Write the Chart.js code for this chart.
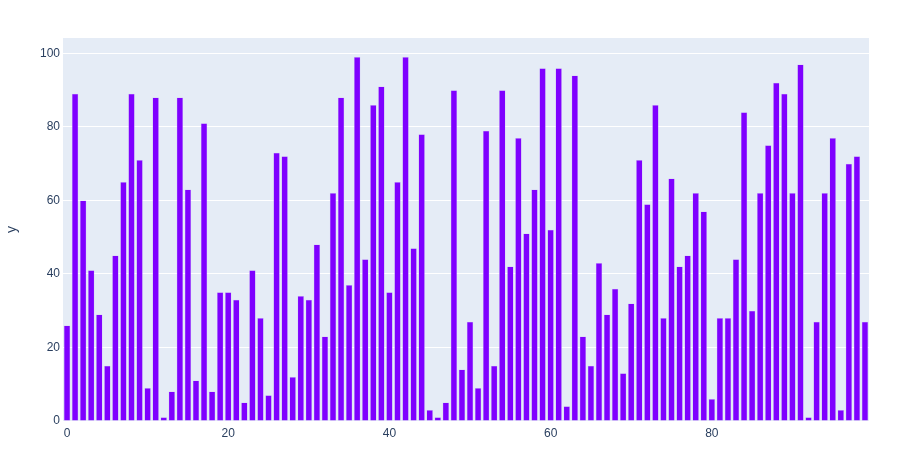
<!DOCTYPE html>
<html>
<head>
<meta charset="utf-8">
<script src="https://cdn.jsdelivr.net/npm/chart.js@4"></script>
<style>
    html, body { margin: 0; padding: 0; background: #ffffff; }
    #wrap { width: 915px; height: 459px; position: relative; }
</style>
</head>
<body>
<div id="wrap"><canvas id="barChart"></canvas></div>
<script>
// x categories 0..99
const xValues = [
    0, 1, 2, 3, 4, 5, 6, 7, 8, 9,
    10, 11, 12, 13, 14, 15, 16, 17, 18, 19,
    20, 21, 22, 23, 24, 25, 26, 27, 28, 29,
    30, 31, 32, 33, 34, 35, 36, 37, 38, 39,
    40, 41, 42, 43, 44, 45, 46, 47, 48, 49,
    50, 51, 52, 53, 54, 55, 56, 57, 58, 59,
    60, 61, 62, 63, 64, 65, 66, 67, 68, 69,
    70, 71, 72, 73, 74, 75, 76, 77, 78, 79,
    80, 81, 82, 83, 84, 85, 86, 87, 88, 89,
    90, 91, 92, 93, 94, 95, 96, 97, 98, 99
];

// bar heights
const yValues = [
    26, 89, 60, 41, 29, 15, 45, 65, 89, 71,
    9, 88, 1, 8, 88, 63, 11, 81, 8, 35,
    35, 33, 5, 41, 28, 7, 73, 72, 12, 34,
    33, 48, 23, 62, 88, 37, 99, 44, 86, 91,
    35, 65, 99, 47, 78, 3, 1, 5, 90, 14,
    27, 9, 79, 15, 90, 42, 77, 51, 63, 96,
    52, 96, 4, 94, 23, 15, 43, 29, 36, 13,
    32, 71, 59, 86, 28, 66, 42, 45, 62, 57,
    6, 28, 28, 44, 84, 30, 62, 75, 92, 89,
    62, 97, 1, 27, 62, 77, 3, 70, 72, 27
];

const xTickLabels = ['0', '20', '40', '60', '80'];
const yTicks = [0, 20, 40, 60, 80, 100];

const tickFont = { family: '"Liberation Sans", Arial, sans-serif', size: 12 };

const plotBg = {
    id: 'plotBg',
    beforeDraw(chart) {
        const { ctx, chartArea: a } = chart;
        ctx.save();
        ctx.fillStyle = '#E5ECF6';
        ctx.fillRect(a.left, a.top, a.right - a.left, a.bottom - a.top);
        ctx.restore();
    }
};

const ctx = document.getElementById('barChart').getContext('2d');
new Chart(ctx, {
    type: 'bar',
    data: {
        labels: xValues.map(String),
        datasets: [{
            label: 'y',
            data: yValues,
            backgroundColor: '#7F00FF',
            borderColor: '#C9B8F5',
            borderWidth: 0.5,
            barPercentage: 0.8,
            categoryPercentage: 1.0
        }]
    },
    options: {
        responsive: true,
        maintainAspectRatio: false,
        animation: false,
        layout: {
            padding: { left: 0, right: 46, top: 38, bottom: 0 }
        },
        plugins: {
            legend: { display: false },
            tooltip: { enabled: false }
        },
        scales: {
            x: {
                type: 'category',
                offset: true,
                grid: { display: false, drawTicks: false },
                border: { display: false },
                ticks: {
                    autoSkip: false,
                    maxRotation: 0,
                    padding: 5,
                    color: '#2a3f5f',
                    font: tickFont,
                    callback: function(value) {
                        const lbl = this.getLabelForValue(value);
                        return xTickLabels.includes(lbl) ? lbl : '';
                    }
                },
                afterFit: function(scale) { scale.height = 38; }
            },
            y: {
                min: 0,
                max: 104.2,
                grid: { color: '#ffffff', lineWidth: 1, drawTicks: false },
                border: { display: false },
                ticks: {
                    stepSize: 20,
                    includeBounds: false,
                    padding: 3,
                    color: '#2a3f5f',
                    font: tickFont,
                    callback: function(value) {
                        return yTicks.includes(value) ? value : '';
                    }
                },
                title: {
                    display: true,
                    text: 'y',
                    color: '#2a3f5f',
                    font: { family: '"Liberation Sans", Arial, sans-serif', size: 14 },
                    padding: { top: 4, bottom: 0 }
                },
                afterFit: function(scale) { scale.width = 63; }
            }
        }
    },
    plugins: [plotBg]
});
</script>
</body>
</html>
